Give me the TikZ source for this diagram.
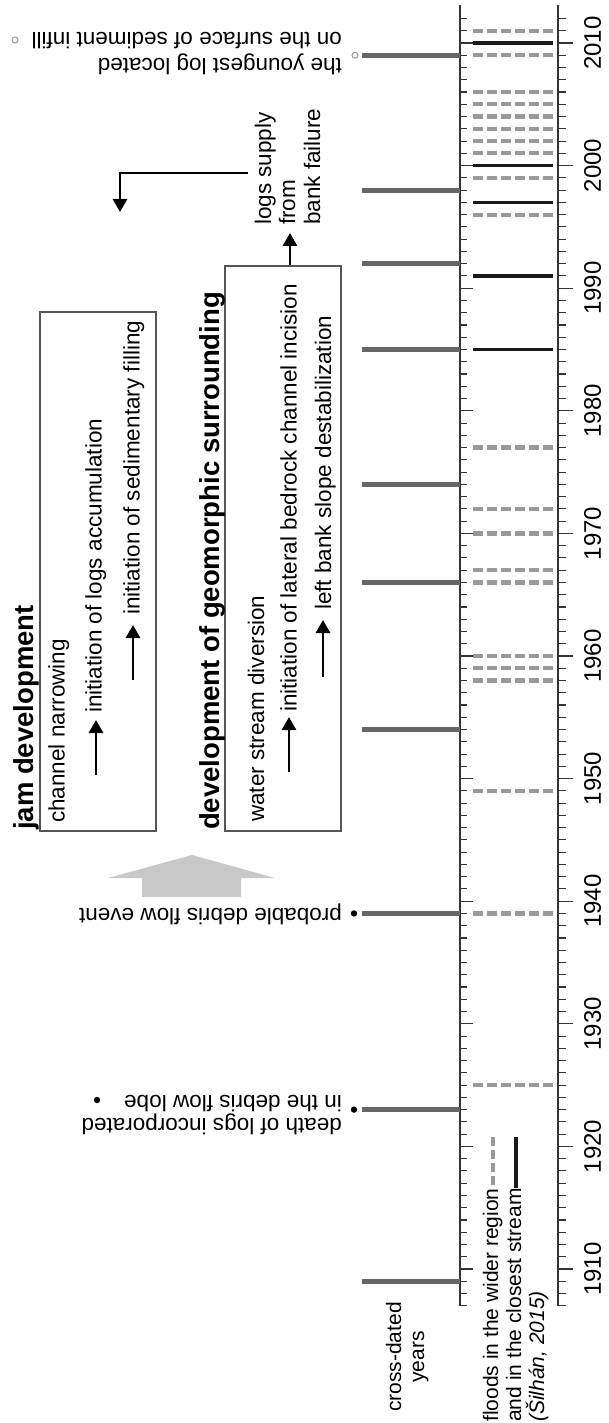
\documentclass[tikz,border=0pt]{standalone}
\usepackage{fontspec}
\setmainfont{Liberation Sans}
\usetikzlibrary{arrows.meta}
\definecolor{bargray}{HTML}{666666}
\definecolor{dashgray}{HTML}{999999}
\definecolor{boxgray}{HTML}{555555}
\definecolor{blockgray}{HTML}{C8C8C8}
\definecolor{axisgray}{HTML}{333333}
\definecolor{floodblack}{HTML}{1A1A1A}
\newcommand{\ypos}[1]{1269-12.26*(#1-1910)}
\begin{document}
\begin{tikzpicture}[x=1pt,y=-1pt,
  axisln/.style={draw=axisgray,line width=1.3pt},
  tickln/.style={draw=axisgray,line width=1.1pt},
  cdbar/.style={draw=bargray,line width=5pt},
  floodw/.style={draw=dashgray,line width=4.2pt,dash pattern=on 10pt off 4pt},
  floodc/.style={draw=floodblack,line width=3.3pt},
  boxst/.style={draw=boxgray,line width=1.4pt,minimum width=116pt,inner sep=0pt},
  basetxt/.style={inner sep=0pt,font=\fontsize{22.5}{24}\selectfont},
  vtext/.style={basetxt,rotate=90,anchor=base west},
  ftext/.style={basetxt,rotate=180,anchor=base west},
  ttl/.style={vtext,font=\fontsize{27.5}{30}\selectfont\bfseries},
  legt/.style={vtext,font=\fontsize{21}{23}\selectfont},
  cdt/.style={inner sep=0pt,rotate=90,anchor=base,font=\fontsize{21}{23}\selectfont},
  yearlab/.style={inner sep=0pt,rotate=90,font=\fontsize{24}{26}\selectfont},
  arr/.style={draw=black,line width=2.8pt,-{Triangle[length=13pt,width=14pt]}},
  ring/.style={draw=dashgray,line width=1pt,fill=white}
]
\fill[white] (0,0) rectangle (608,1423);
\useasboundingbox (0,0) rectangle (608,1423);

% axes and ticks
\draw[axisln] (460,5) -- (460,{\ypos{1907}});
\draw[axisln] (558,5) -- (558,{\ypos{1907}});
\foreach \yy in {1907,...,2012} {
  \draw[tickln] (460,{\ypos{\yy}}) -- (467,{\ypos{\yy}});
  \draw[tickln] (558,{\ypos{\yy}}) -- (566,{\ypos{\yy}});
}
\foreach \yy in {1910,1920,...,2010} {
  \draw[tickln] (460,{\ypos{\yy}}) -- (473,{\ypos{\yy}});
  \draw[tickln] (558,{\ypos{\yy}}) -- (573,{\ypos{\yy}});
  \node[yearlab] (yl\yy) at (592.5,{\ypos{\yy}}) {\yy};
}

% floods
\foreach \yy in {1925,1939,1949,1958,1959,1960,1966,1967,1970,1972,1977,1996,1999,2001,2002,2003,2004,2005,2006,2009,2011}
  \draw[floodw] (473,{\ypos{\yy}}) -- (553,{\ypos{\yy}});
\foreach \yy in {1985,1991,1997,2000,2010}
  \draw[floodc] (473,{\ypos{\yy}}) -- (553,{\ypos{\yy}});

% cross-dated years
\foreach \yy in {1909,1923,1939,1954,1966,1974,1985,1992,1998,2009}
  \draw[cdbar] (362,{\ypos{\yy}}) -- (460,{\ypos{\yy}});
\fill (354,{\ypos{1923}}) circle (3.2pt);
\fill (354,{\ypos{1939}}) circle (3.2pt);
\draw[ring] (355,{\ypos{2009}}) circle (3pt);

% legend
\draw[draw=dashgray,line width=4pt,dash pattern=on 8.5pt off 4.5pt] (493,1137) -- (493,1185);
\draw[floodc] (516,1137) -- (516,1188);
\node[legt] (lg1) at (498,1422) {floods in the wider region};
\node[legt] (lg2) at (521,1422) {and in the closest stream};
\node[legt] (lg3) at (544,1422) {\itshape (Šilhán, 2015)};
\node[cdt] (cd1) at (401,1357) {cross-dated};
\node[cdt] (cd2) at (424,1357) {years};

% boxes
\node[boxst,minimum height=519pt] (box1) at (98,571.5) {};
\node[boxst,minimum height=565pt] (box2) at (283,548.5) {};

\node[ttl] (ttl1) at (33,830) {jam development};
\node[vtext] (t1) at (64.5,823) {channel narrowing};
\node[vtext] (t2) at (101.5,713) {initiation of logs accumulation};
\node[vtext] (t3) at (139.5,615) {initiation of sedimentary filling};
\node[ttl] (ttl2) at (219.5,830) {development of geomorphic surrounding};
\node[vtext] (t4) at (264,822) {water stream diversion};
\node[vtext] (t5) at (296.5,712) {initiation of lateral bedrock channel incision};
\node[vtext] (t6) at (331,610) {left bank slope destabilization};
\node[vtext] (ls1) at (271,225) {logs supply};
\node[vtext] (ls2) at (295,225) {from};
\node[vtext] (ls3) at (320,225) {bank failure};

\coordinate (a1s) at (96,775);   \coordinate (a1e) at (96,720);
\coordinate (a2s) at (133,680);  \coordinate (a2e) at (133,625);
\coordinate (a3s) at (289,772);  \coordinate (a3e) at (289,717);
\coordinate (a4s) at (323,677);  \coordinate (a4e) at (323,620);
\draw[arr] (a1s) -- (a1e);
\draw[arr] (a2s) -- (a2e);
\draw[arr] (a3s) -- (a3e);
\draw[arr] (a4s) -- (a4e);
\coordinate (lsa) at (290,233);
\draw[arr] (box2.north -| lsa) -- (lsa);
\coordinate (lsb) at (248,173);
\coordinate (lsc) at (120,212);
\draw[arr] (lsb) -| (lsc);

% gray block arrow
\fill[blockgray] (142,897) -- (241,897) -- (241,878) -- (275,878) -- (192,855) -- (108,878) -- (142,878) -- cycle;

% upside-down labels
\node[ftext] (yg1) at (342,59) {the youngest log located};
\node[ftext] (yg2) at (342,33) {on the surface of sediment infill};
\draw[ring] (15,40) circle (3pt);
\node[ftext] (pd) at (342,908) {probable debris flow event};
\node[ftext] (dl1) at (342,1118) {death of logs incorporated};
\node[ftext] (dl2) at (342,1095) {in the debris flow lobe};
\fill (97,1100) circle (3.2pt);
\end{tikzpicture}
\end{document}
